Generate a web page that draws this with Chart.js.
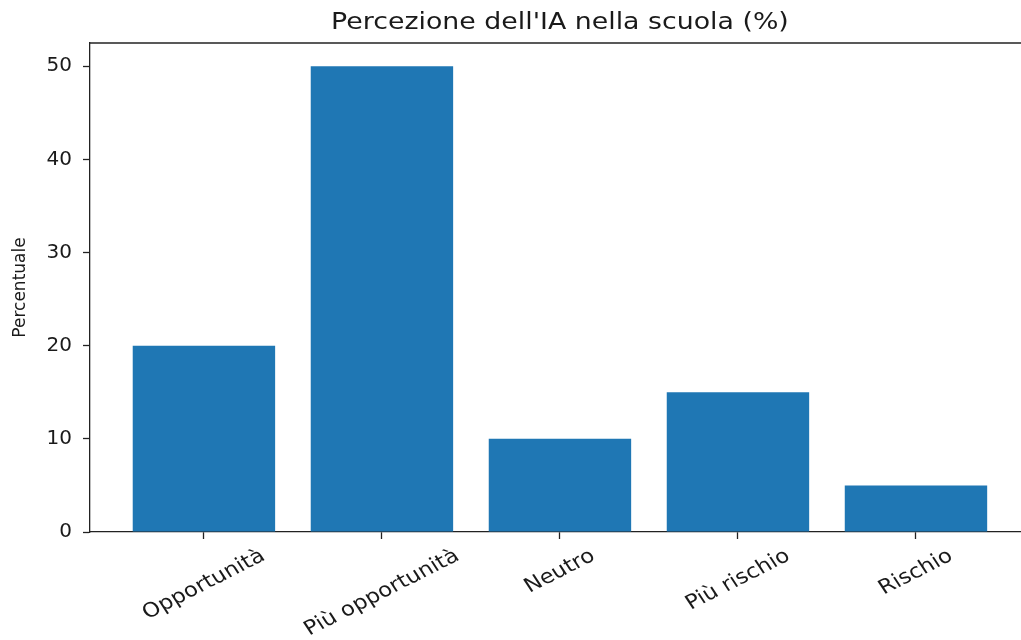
<!DOCTYPE html>
<html lang="it">
<head>
<meta charset="UTF-8">
<title>Percezione dell'IA nella scuola</title>
<script src="https://cdn.jsdelivr.net/npm/chart.js"></script>
<style>
  html, body { margin: 0; padding: 0; background: #fff; }
  #wrap { width: 1021px; height: 640px; }
</style>
</head>
<body>
<div id="wrap"><canvas id="myChart"></canvas></div>
<script>
// dati
const categorie = ['Opportunità', 'Più opportunità', 'Neutro', 'Più rischio', 'Rischio'];
const percentuali = [20, 50, 10, 15, 5];
const tickY = [0, 10, 20, 30, 40, 50];
const titolo = "Percezione dell'IA nella scuola (%)";

const coloreTesto = '#1a1a1a';
const coloreAssi = '#222';
// l'immagine di partenza è leggermente allargata in orizzontale
const allarga = 1.14;

// titolo centrato sugli assi, etichette x ruotate di 30 gradi e bordo superiore
const testiExtra = {
    id: 'testiExtra',
    afterDraw(chart) {
        const ctx = chart.ctx;
        const xs = chart.scales.x;
        const area = chart.chartArea;
        ctx.save();
        ctx.strokeStyle = coloreAssi;
        ctx.lineWidth = 1.3;
        ctx.beginPath();
        ctx.moveTo(area.left, area.top);
        ctx.lineTo(area.right, area.top);
        ctx.stroke();

        // titolo: centro dell'asse x completo (-0.64 .. 4.64)
        const cx = (xs.getPixelForValue(-0.64) + xs.getPixelForValue(4.64)) / 2;
        ctx.font = '23.5px "DejaVu Sans"';
        ctx.fillStyle = coloreTesto;
        ctx.save();
        ctx.translate(cx, 23);
        ctx.scale(allarga, 1);
        ctx.textAlign = 'center';
        ctx.textBaseline = 'middle';
        ctx.fillText(titolo, 0, 0);
        ctx.restore();

        ctx.font = '20px "DejaVu Sans"';
        const ang = 30 * Math.PI / 180;
        categorie.forEach(function (c, i) {
            const x = xs.getPixelForValue(i);
            const w = ctx.measureText(c).width;
            const h = 20;
            const bh = w * Math.sin(ang) + h * Math.cos(ang);
            const y = area.bottom + 14 + bh / 2;
            ctx.save();
            ctx.translate(x, y);
            ctx.scale(allarga, 1);
            ctx.rotate(-ang);
            ctx.textAlign = 'center';
            ctx.textBaseline = 'middle';
            ctx.fillText(c, 0, 0);
            ctx.restore();
        });
        ctx.restore();
    }
};

const griglia = {
    display: true,
    drawOnChartArea: false,
    drawTicks: true,
    tickLength: 7,
    tickWidth: 1.3,
    color: coloreAssi,
    offset: false
};

new Chart(document.getElementById('myChart'), {
    type: 'bar',
    data: {
        datasets: [{
            data: percentuali.map(function (v, i) { return { x: i, y: v }; }),
            backgroundColor: '#1f77b4',
            borderWidth: 0,
            barPercentage: 0.8,
            categoryPercentage: 1
        }]
    },
    options: {
        responsive: true,
        maintainAspectRatio: false,
        animation: false,
        layout: { padding: { left: 0, right: 0, top: 43, bottom: 0 } },
        plugins: {
            legend: { display: false },
            tooltip: { enabled: false },
            title: { display: false }
        },
        scales: {
            x: {
                type: 'linear',
                min: -0.64,
                max: 4.59,
                offset: false,
                grid: griglia,
                border: { display: true, color: coloreAssi, width: 1.3 },
                afterBuildTicks: function (s) {
                    s.ticks = categorie.map(function (c, i) { return { value: i }; });
                },
                ticks: { callback: function () { return ''; }, autoSkip: false, maxRotation: 0 },
                afterFit: function (s) { s.height = 108; }
            },
            y: {
                min: 0,
                max: 52.5,
                grid: griglia,
                border: { display: true, color: coloreAssi, width: 1.3 },
                afterBuildTicks: function (s) {
                    s.ticks = tickY.map(function (v) { return { value: v }; });
                },
                ticks: {
                    font: { family: 'DejaVu Sans', size: 20 },
                    color: coloreTesto,
                    padding: 11,
                    autoSkip: false
                },
                title: {
                    display: true,
                    text: 'Percentuale',
                    color: coloreTesto,
                    font: { family: 'DejaVu Sans', size: 17 },
                    padding: { top: 10, bottom: 0 }
                },
                afterFit: function (s) { s.width = 90; }
            }
        }
    },
    plugins: [testiExtra]
});
</script>
</body>
</html>
